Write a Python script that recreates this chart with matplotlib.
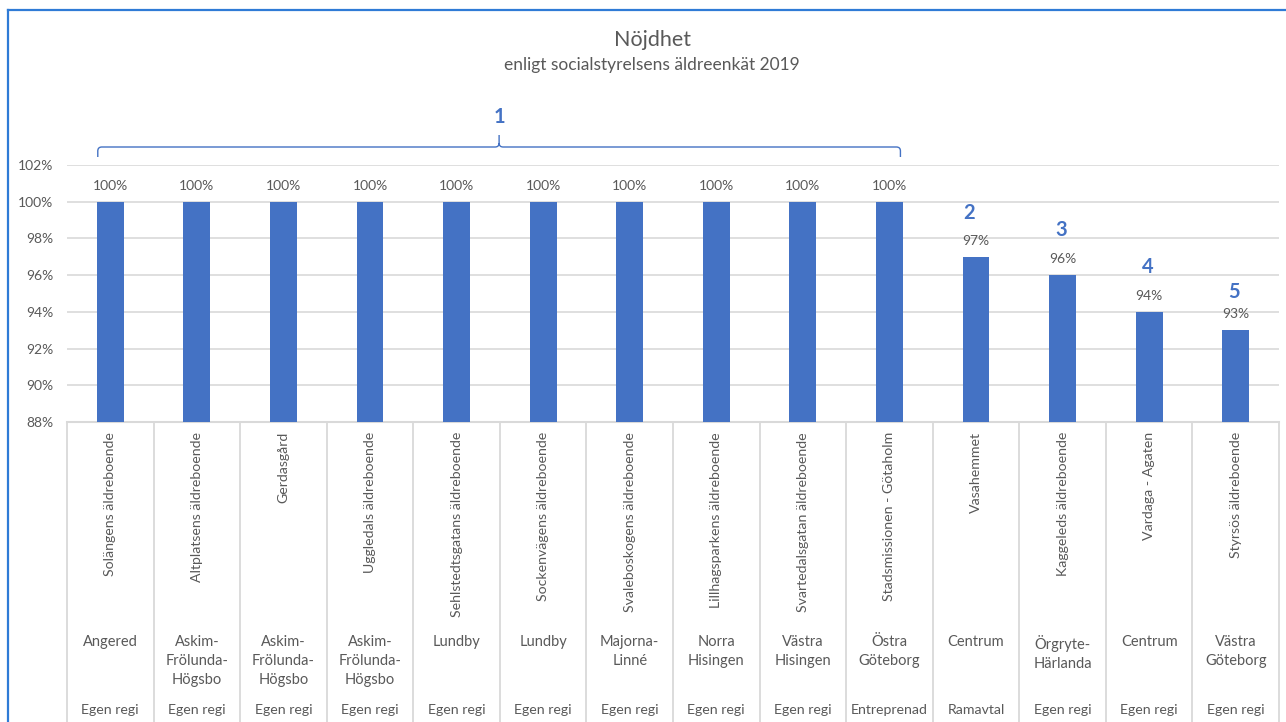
import matplotlib
matplotlib.use("Agg")
import matplotlib.pyplot as plt
from matplotlib.lines import Line2D
from matplotlib.path import Path
from matplotlib.patches import PathPatch
import numpy as np

plt.rcParams['font.family'] = ['Lato', 'DejaVu Sans']

# ---- data ----
names = ["Solängens äldreboende", "Altplatsens äldreboende", "Gerdasgård",
         "Uggledals äldreboende", "Sehlstedtsgatans äldreboende",
         "Sockenvägens äldreboende", "Svaleboskogens äldreboende",
         "Lillhagsparkens äldreboende", "Svartedalsgatan äldreboende",
         "Stadsmissionen - Götaholm", "Vasahemmet", "Kaggeleds äldreboende",
         "Vardaga - Agaten", "Styrsös äldreboende"]
districts = ["Angered", "Askim-\nFrölunda-\nHögsbo", "Askim-\nFrölunda-\nHögsbo",
             "Askim-\nFrölunda-\nHögsbo", "Lundby", "Lundby", "Majorna-\nLinné",
             "Norra\nHisingen", "Västra\nHisingen", "Östra\nGöteborg", "Centrum",
             "Örgryte-\nHärlanda", "Centrum", "Västra\nGöteborg"]
regi = ["Egen regi"] * 9 + ["Entreprenad", "Ramavtal", "Egen regi", "Egen regi", "Egen regi"]
values = [100, 100, 100, 100, 100, 100, 100, 100, 100, 100, 97, 96, 94, 93]
rank_labels = ["2", "3", "4", "5"]
rank_bars = [10, 11, 12, 13]
group_rank = "1"
group_span = (0, 9)

# ---- layout ----
W, H = 1286, 722
fig = plt.figure(figsize=(W / 100, H / 100), dpi=100)
fig.patch.set_facecolor("white")

L, R, T, B = 67, 1279, 165, 422
ax = fig.add_axes([L / W, (H - B) / H, (R - L) / W, (B - T) / H])

BLUE = "#4472C4"
TXT = "#595959"
GRID = "#D9D9D9"

x = np.arange(len(values))
ax.bar(x, values, width=0.31, color=BLUE, zorder=3)
ax.set_xlim(-0.5, len(values) - 0.5)
ax.set_ylim(88, 102)
ax.set_yticks(np.arange(88, 103, 2))
ax.set_yticklabels([f"{v}%" for v in range(88, 103, 2)], color=TXT, fontsize=10)
ax.tick_params(axis="y", length=0, pad=10)
ax.set_xticks([])
ax.grid(axis="y", color=GRID, lw=1.2, zorder=0)
for s in ax.spines.values():
    s.set_visible(False)
ax.axhline(88, color=GRID, lw=1.5, zorder=2, clip_on=False)

# value labels
for xi, v in zip(x, values):
    ax.annotate(f"{v}%", (xi, v), xytext=(0, 11.5), textcoords="offset points",
                ha="center", va="center", fontsize=10, color=TXT)

# rank labels
rank_off = [44, 45, 45, 38]
for lab, bi, off in zip(rank_labels, rank_bars, rank_off):
    ax.annotate(lab, (bi, values[bi]), xytext=(-5 if bi == 10 else -1, off * 0.72),
                textcoords="offset points", ha="center", va="center",
                fontsize=14.5, fontweight="bold", color=BLUE)

# category axis (multi level)
scale = (B - T)
def ay(py):
    return (B - py) / scale

trans = ax.get_xaxis_transform()
for b in np.arange(-0.5, len(values), 1.0):
    ax.add_line(Line2D([b, b], [0, ay(H + 5)], transform=trans, color=GRID,
                       lw=1.3, clip_on=False))
for xi in x:
    ax.text(xi, ay(432), names[xi], rotation=90, ha="center", va="top",
            fontsize=10.2, color=TXT, transform=trans)
    ax.text(xi, ay(635), districts[xi], ha="center", va="top", fontsize=10.5,
            color=TXT, transform=trans, linespacing=1.44)
    ax.text(xi, ay(710), regi[xi], ha="center", va="center", fontsize=10.2,
            color=TXT, transform=trans)

# brace over first group (in pixel coords)
fig.canvas.draw()
def px(xd):
    return ax.transData.transform((xd, 100))[0]
x0 = px(group_span[0]) - 12.5
x1 = px(group_span[1]) + 11
xm = (x0 + x1) / 2
yl = H - 147
ye = H - 157
yt = H - 135
r = 4
verts = [(x0, ye), (x0, yl - r), (x0, yl), (x0 + r, yl),
         (xm - r, yl), (xm, yl), (xm, yl + r), (xm, yt),
         (xm, yl + r), (xm, yl), (xm + r, yl),
         (x1 - r, yl), (x1, yl), (x1, yl - r), (x1, ye)]
codes = [Path.MOVETO, Path.LINETO, Path.CURVE3, Path.CURVE3,
         Path.LINETO, Path.CURVE3, Path.CURVE3, Path.LINETO,
         Path.MOVETO, Path.CURVE3, Path.CURVE3,
         Path.LINETO, Path.CURVE3, Path.CURVE3, Path.LINETO]
fig.add_artist(PathPatch(Path(verts, codes), transform=None, fill=False,
                         edgecolor=BLUE, lw=1.0))
fig.text(xm / W, (H - 117) / H, group_rank, ha="center", va="center",
         fontsize=14.5, fontweight="bold", color=BLUE)

# titles
fig.text(652 / W, (H - 40) / H, "Nöjdhet", ha="center", va="center",
         fontsize=15.5, color=TXT)
fig.text(652 / W, (H - 65) / H, "enligt socialstyrelsens äldreenkät 2019",
         ha="center", va="center", fontsize=12.5, color=TXT)

# outer frame
FR = "#2F7BD6"
fig.add_artist(Line2D([8, 8], [0, H - 10], transform=None, color=FR, lw=1.6))
fig.add_artist(Line2D([8, W], [H - 10, H - 10], transform=None, color=FR, lw=1.6))

fig.savefig("out.png", dpi=100)
